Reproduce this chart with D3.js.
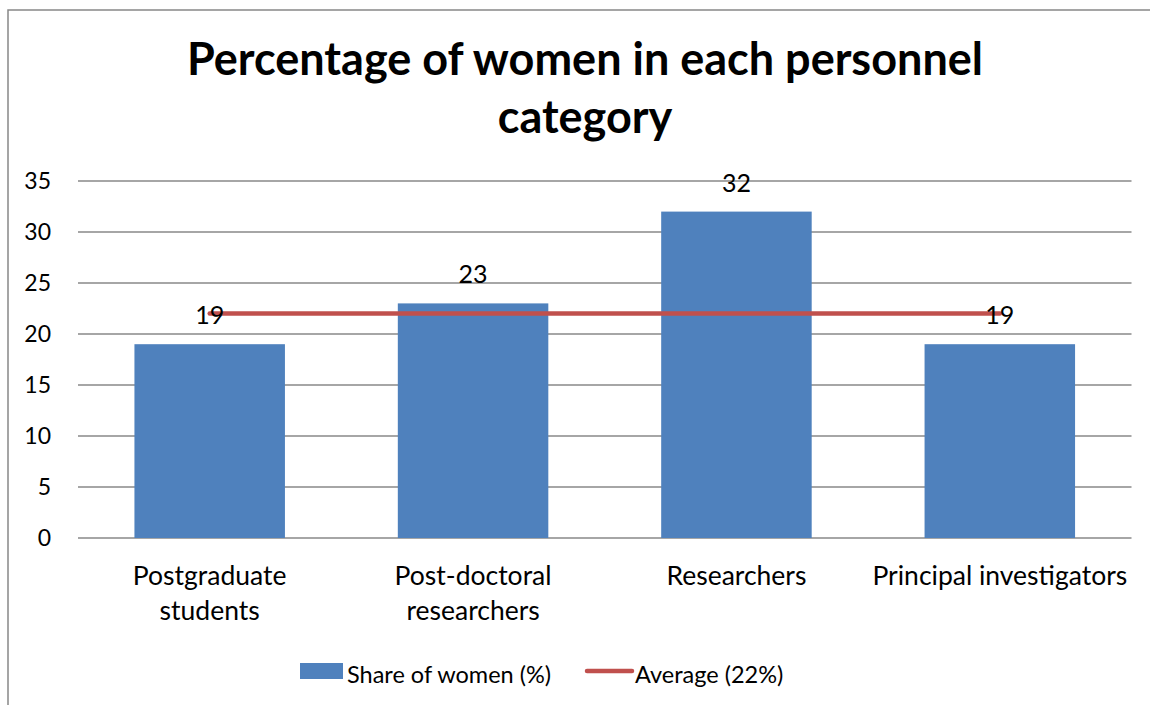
<!DOCTYPE html>
<html>
<head>
<meta charset="utf-8">
<script src="https://cdn.jsdelivr.net/npm/d3@7"></script>
<style>
    body { margin: 0; background: #fff; }
    text { font-family: Lato, "Open Sans", sans-serif; fill: #000; }
</style>
</head>
<body>
<script>
// chart data
const categories = ["Postgraduate students", "Post-doctoral researchers", "Researchers", "Principal investigators"];
const categoryLines = [["Postgraduate", "students"], ["Post-doctoral", "researchers"], ["Researchers"], ["Principal investigators"]];
const shareOfWomen = [19, 23, 32, 19];
const averageShare = [22, 22, 22, 22];
const yTicks = [0, 5, 10, 15, 20, 25, 30, 35];
const legendLabels = ["Share of women (%)", "Average (22%)"];

const width = 1150, height = 705;
const margin = {top: 181, right: 18.5, bottom: 167, left: 78};

const svg = d3.select("body").append("svg")
    .attr("width", width)
    .attr("height", height);

// outer frame (only top and left edges visible)
svg.append("path")
    .attr("d", "M8," + height + "V10H" + width)
    .attr("fill", "none")
    .attr("stroke", "#888")
    .attr("stroke-width", 1.5);

// title
const title = svg.append("text")
    .attr("text-anchor", "middle")
    .attr("font-weight", "bold")
    .attr("font-size", 45);
title.append("tspan").attr("x", 585).attr("y", 75).text("Percentage of women in each personnel");
title.append("tspan").attr("x", 585).attr("y", 133).text("category");

const x = d3.scaleBand()
    .domain(categories)
    .range([margin.left, width - margin.right])
    .paddingInner(0.75 / 1.75)
    .paddingOuter(0.75 / 3.5);

const y = d3.scaleLinear()
    .domain([0, 35])
    .range([height - margin.bottom, margin.top]);

// gridlines
svg.append("g")
    .selectAll("line")
    .data(yTicks)
    .enter().append("line")
    .attr("x1", margin.left)
    .attr("x2", width - margin.right)
    .attr("y1", d => y(d))
    .attr("y2", d => y(d))
    .attr("stroke", "#888")
    .attr("stroke-width", 1.5);

// y tick labels
svg.append("g")
    .selectAll("text")
    .data(yTicks)
    .enter().append("text")
    .attr("x", 51)
    .attr("y", d => y(d))
    .attr("dy", "0.36em")
    .attr("text-anchor", "end")
    .attr("font-size", 23)
    .text(d => d);

// bars
svg.append("g")
    .selectAll("rect")
    .data(shareOfWomen)
    .enter().append("rect")
    .attr("x", (d, i) => x(categories[i]))
    .attr("y", d => y(d))
    .attr("width", x.bandwidth())
    .attr("height", d => y(0) - y(d))
    .attr("fill", "#4F81BD");

// average line
const line = d3.line()
    .x((d, i) => x(categories[i]) + x.bandwidth() / 2)
    .y(d => y(d));

svg.append("path")
    .datum(averageShare)
    .attr("d", line)
    .attr("fill", "none")
    .attr("stroke", "#C0504D")
    .attr("stroke-width", 4.5)
    .attr("stroke-linecap", "round");

// data labels
svg.append("g")
    .selectAll("text")
    .data(shareOfWomen)
    .enter().append("text")
    .attr("x", (d, i) => x(categories[i]) + x.bandwidth() / 2)
    .attr("y", d => y(d) - 20)
    .attr("text-anchor", "middle")
    .attr("font-size", 25)
    .text(d => d);

// x labels
const xl = svg.append("g")
    .selectAll("text")
    .data(categoryLines)
    .enter().append("text")
    .attr("text-anchor", "middle")
    .attr("font-size", 26.5);
xl.each(function(lines, i) {
    const cx = x(categories[i]) + x.bandwidth() / 2;
    d3.select(this).selectAll("tspan")
        .data(lines)
        .enter().append("tspan")
        .attr("x", cx)
        .attr("y", (d, j) => 585 + j * 35)
        .text(d => d);
});

// legend
const lg = svg.append("g");
lg.append("rect")
    .attr("x", 300).attr("y", 663)
    .attr("width", 43).attr("height", 16)
    .attr("fill", "#4F81BD");
lg.append("text")
    .attr("x", 347).attr("y", 683)
    .attr("font-size", 23.5)
    .text(legendLabels[0]);
lg.append("line")
    .attr("x1", 587).attr("x2", 632)
    .attr("y1", 671).attr("y2", 671)
    .attr("stroke", "#C0504D")
    .attr("stroke-width", 4.5)
    .attr("stroke-linecap", "round");
lg.append("text")
    .attr("x", 635).attr("y", 683)
    .attr("font-size", 23.5)
    .text(legendLabels[1]);
</script>
</body>
</html>
